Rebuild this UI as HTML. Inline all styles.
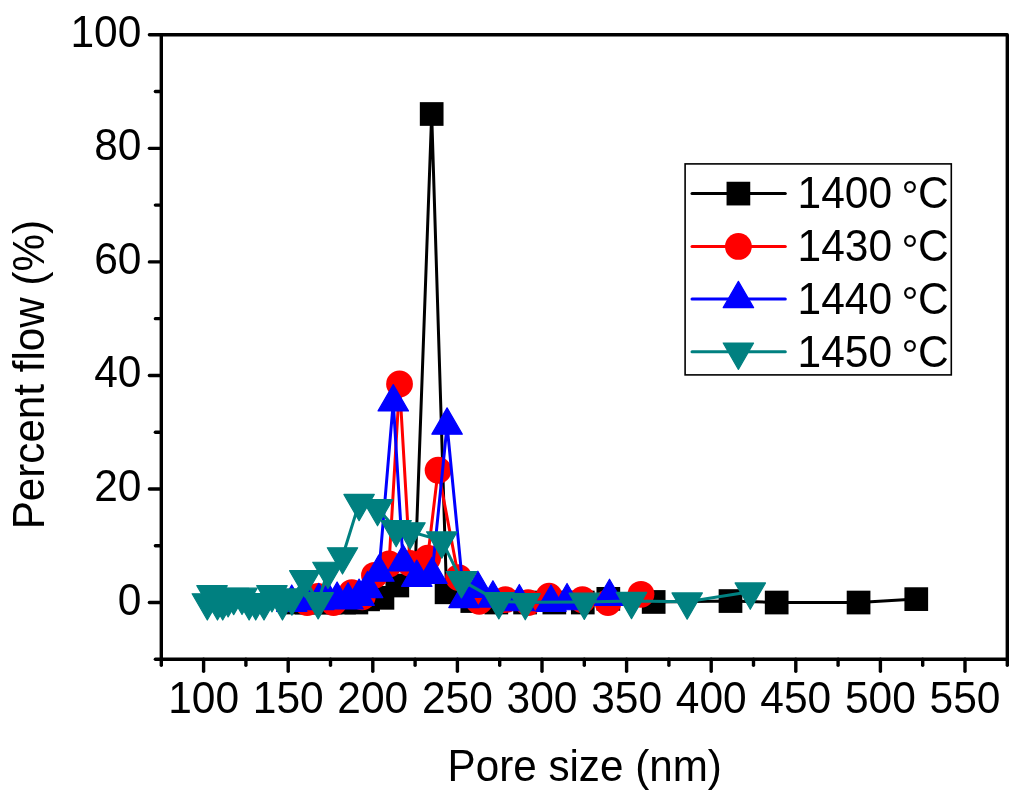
<!DOCTYPE html>
<html><head><meta charset="utf-8"><title>Pore size distribution</title>
<style>html,body{margin:0;padding:0;background:#fff;}body{width:1024px;height:799px;position:relative;overflow:hidden;}</style></head>
<body>
<svg width="1024" height="799" viewBox="0 0 1024 799" style="position:absolute;left:0;top:0">
<rect x="0" y="0" width="1024" height="799" fill="#ffffff"/>
<g id="data">
<polyline fill="none" stroke="#000000" stroke-width="3" stroke-linejoin="round" stroke-linecap="round" points="296.66,602.53 306.81,602.53 318.66,602.53 330.50,602.53 344.04,602.53 356.39,602.53 368.06,599.35 382.44,597.82 397.33,585.50 415.10,571.30 431.68,114.00 446.57,592.31 472.29,601.05 496.32,602.53 525.08,602.53 554.35,602.53 582.78,602.53 608.33,598.84 653.67,601.96 730.49,601.05 776.68,602.53 858.57,602.53 916.27,599.12"/>
<rect x="284.81" y="590.68" width="23.7" height="23.7" fill="#000000"/>
<rect x="294.96" y="590.68" width="23.7" height="23.7" fill="#000000"/>
<rect x="306.81" y="590.68" width="23.7" height="23.7" fill="#000000"/>
<rect x="318.65" y="590.68" width="23.7" height="23.7" fill="#000000"/>
<rect x="332.19" y="590.68" width="23.7" height="23.7" fill="#000000"/>
<rect x="344.54" y="590.68" width="23.7" height="23.7" fill="#000000"/>
<rect x="356.21" y="587.50" width="23.7" height="23.7" fill="#000000"/>
<rect x="370.59" y="585.97" width="23.7" height="23.7" fill="#000000"/>
<rect x="385.48" y="573.65" width="23.7" height="23.7" fill="#000000"/>
<rect x="403.25" y="559.45" width="23.7" height="23.7" fill="#000000"/>
<rect x="419.83" y="102.15" width="23.7" height="23.7" fill="#000000"/>
<rect x="434.72" y="580.46" width="23.7" height="23.7" fill="#000000"/>
<rect x="460.44" y="589.20" width="23.7" height="23.7" fill="#000000"/>
<rect x="484.47" y="590.68" width="23.7" height="23.7" fill="#000000"/>
<rect x="513.23" y="590.68" width="23.7" height="23.7" fill="#000000"/>
<rect x="542.50" y="590.68" width="23.7" height="23.7" fill="#000000"/>
<rect x="570.93" y="590.68" width="23.7" height="23.7" fill="#000000"/>
<rect x="596.48" y="586.99" width="23.7" height="23.7" fill="#000000"/>
<rect x="641.82" y="590.11" width="23.7" height="23.7" fill="#000000"/>
<rect x="718.64" y="589.20" width="23.7" height="23.7" fill="#000000"/>
<rect x="764.83" y="590.68" width="23.7" height="23.7" fill="#000000"/>
<rect x="846.72" y="590.68" width="23.7" height="23.7" fill="#000000"/>
<rect x="904.42" y="587.27" width="23.7" height="23.7" fill="#000000"/>
<polyline fill="none" stroke="#ff0000" stroke-width="3" stroke-linejoin="round" stroke-linecap="round" points="307.15,602.53 317.98,596.28 333.55,602.53 351.82,592.59 362.31,596.85 374.49,575.28 389.04,563.92 399.53,383.95 410.02,563.35 427.62,558.24 438.11,470.25 458.58,577.55 479.23,601.39 505.45,599.69 528.13,602.53 549.11,596.11 582.44,599.69 607.99,602.53 640.98,594.30"/>
<circle cx="307.15" cy="602.53" r="13.4" fill="#ff0000"/>
<circle cx="317.98" cy="596.28" r="13.4" fill="#ff0000"/>
<circle cx="333.55" cy="602.53" r="13.4" fill="#ff0000"/>
<circle cx="351.82" cy="592.59" r="13.4" fill="#ff0000"/>
<circle cx="362.31" cy="596.85" r="13.4" fill="#ff0000"/>
<circle cx="374.49" cy="575.28" r="13.4" fill="#ff0000"/>
<circle cx="389.04" cy="563.92" r="13.4" fill="#ff0000"/>
<circle cx="399.53" cy="383.95" r="13.4" fill="#ff0000"/>
<circle cx="410.02" cy="563.35" r="13.4" fill="#ff0000"/>
<circle cx="427.62" cy="558.24" r="13.4" fill="#ff0000"/>
<circle cx="438.11" cy="470.25" r="13.4" fill="#ff0000"/>
<circle cx="458.58" cy="577.55" r="13.4" fill="#ff0000"/>
<circle cx="479.23" cy="601.39" r="13.4" fill="#ff0000"/>
<circle cx="505.45" cy="599.69" r="13.4" fill="#ff0000"/>
<circle cx="528.13" cy="602.53" r="13.4" fill="#ff0000"/>
<circle cx="549.11" cy="596.11" r="13.4" fill="#ff0000"/>
<circle cx="582.44" cy="599.69" r="13.4" fill="#ff0000"/>
<circle cx="607.99" cy="602.53" r="13.4" fill="#ff0000"/>
<circle cx="640.98" cy="594.30" r="13.4" fill="#ff0000"/>
<polyline fill="none" stroke="#0000ff" stroke-width="3" stroke-linejoin="round" stroke-linecap="round" points="291.75,602.53 305.12,599.69 318.83,600.82 327.96,599.69 337.10,599.52 348.10,600.26 359.09,596.57 367.55,588.90 378.89,572.44 393.27,402.12 403.09,562.22 416.79,577.55 432.02,574.71 447.08,425.40 464.00,598.84 477.87,588.73 492.93,598.27 519.33,601.96 550.97,602.53 567.04,600.99 609.51,596.74"/>
<polygon points="291.75,584.99 276.55,611.29 306.95,611.29" fill="#0000ff" stroke="#0000ff" stroke-width="1.2" stroke-linejoin="round"/>
<polygon points="305.12,582.16 289.92,608.46 320.32,608.46" fill="#0000ff" stroke="#0000ff" stroke-width="1.2" stroke-linejoin="round"/>
<polygon points="318.83,583.29 303.63,609.59 334.03,609.59" fill="#0000ff" stroke="#0000ff" stroke-width="1.2" stroke-linejoin="round"/>
<polygon points="327.96,582.16 312.76,608.46 343.16,608.46" fill="#0000ff" stroke="#0000ff" stroke-width="1.2" stroke-linejoin="round"/>
<polygon points="337.10,581.98 321.90,608.28 352.30,608.28" fill="#0000ff" stroke="#0000ff" stroke-width="1.2" stroke-linejoin="round"/>
<polygon points="348.10,582.72 332.90,609.02 363.30,609.02" fill="#0000ff" stroke="#0000ff" stroke-width="1.2" stroke-linejoin="round"/>
<polygon points="359.09,579.03 343.89,605.33 374.29,605.33" fill="#0000ff" stroke="#0000ff" stroke-width="1.2" stroke-linejoin="round"/>
<polygon points="367.55,571.37 352.35,597.67 382.75,597.67" fill="#0000ff" stroke="#0000ff" stroke-width="1.2" stroke-linejoin="round"/>
<polygon points="378.89,554.90 363.69,581.20 394.09,581.20" fill="#0000ff" stroke="#0000ff" stroke-width="1.2" stroke-linejoin="round"/>
<polygon points="393.27,384.59 378.07,410.89 408.47,410.89" fill="#0000ff" stroke="#0000ff" stroke-width="1.2" stroke-linejoin="round"/>
<polygon points="403.09,544.69 387.89,570.99 418.29,570.99" fill="#0000ff" stroke="#0000ff" stroke-width="1.2" stroke-linejoin="round"/>
<polygon points="416.79,560.01 401.59,586.31 431.99,586.31" fill="#0000ff" stroke="#0000ff" stroke-width="1.2" stroke-linejoin="round"/>
<polygon points="432.02,557.18 416.82,583.48 447.22,583.48" fill="#0000ff" stroke="#0000ff" stroke-width="1.2" stroke-linejoin="round"/>
<polygon points="447.08,407.86 431.88,434.16 462.28,434.16" fill="#0000ff" stroke="#0000ff" stroke-width="1.2" stroke-linejoin="round"/>
<polygon points="464.00,581.30 448.80,607.60 479.20,607.60" fill="#0000ff" stroke="#0000ff" stroke-width="1.2" stroke-linejoin="round"/>
<polygon points="477.87,571.20 462.67,597.50 493.07,597.50" fill="#0000ff" stroke="#0000ff" stroke-width="1.2" stroke-linejoin="round"/>
<polygon points="492.93,580.74 477.73,607.04 508.13,607.04" fill="#0000ff" stroke="#0000ff" stroke-width="1.2" stroke-linejoin="round"/>
<polygon points="519.33,584.43 504.13,610.73 534.53,610.73" fill="#0000ff" stroke="#0000ff" stroke-width="1.2" stroke-linejoin="round"/>
<polygon points="550.97,584.99 535.77,611.29 566.17,611.29" fill="#0000ff" stroke="#0000ff" stroke-width="1.2" stroke-linejoin="round"/>
<polygon points="567.04,583.46 551.84,609.76 582.24,609.76" fill="#0000ff" stroke="#0000ff" stroke-width="1.2" stroke-linejoin="round"/>
<polygon points="609.51,579.20 594.31,605.50 624.71,605.50" fill="#0000ff" stroke="#0000ff" stroke-width="1.2" stroke-linejoin="round"/>
<polyline fill="none" stroke="#008080" stroke-width="3" stroke-linejoin="round" stroke-linecap="round" points="207.32,602.53 212.06,594.41 217.47,602.53 222.72,602.53 228.13,599.40 233.72,597.13 242.01,596.96 249.11,602.53 255.71,602.53 264.00,602.53 271.96,594.41 282.45,602.53 291.92,597.70 304.78,579.42 318.15,601.39 327.96,571.02 342.51,556.54 359.09,503.17 377.54,508.28 396.15,529.29 410.02,531.56 441.83,540.64 461.46,580.39 498.85,601.39 525.25,602.24 584.30,601.96 631.51,601.11 687.17,601.68 750.29,591.74"/>
<polygon points="207.32,620.06 192.12,593.76 222.52,593.76" fill="#008080" stroke="#008080" stroke-width="1.2" stroke-linejoin="round"/>
<polygon points="212.06,611.94 196.86,585.64 227.26,585.64" fill="#008080" stroke="#008080" stroke-width="1.2" stroke-linejoin="round"/>
<polygon points="217.47,620.06 202.27,593.76 232.67,593.76" fill="#008080" stroke="#008080" stroke-width="1.2" stroke-linejoin="round"/>
<polygon points="222.72,620.06 207.52,593.76 237.92,593.76" fill="#008080" stroke="#008080" stroke-width="1.2" stroke-linejoin="round"/>
<polygon points="228.13,616.94 212.93,590.64 243.33,590.64" fill="#008080" stroke="#008080" stroke-width="1.2" stroke-linejoin="round"/>
<polygon points="233.72,614.67 218.52,588.37 248.92,588.37" fill="#008080" stroke="#008080" stroke-width="1.2" stroke-linejoin="round"/>
<polygon points="242.01,614.50 226.81,588.20 257.21,588.20" fill="#008080" stroke="#008080" stroke-width="1.2" stroke-linejoin="round"/>
<polygon points="249.11,620.06 233.91,593.76 264.31,593.76" fill="#008080" stroke="#008080" stroke-width="1.2" stroke-linejoin="round"/>
<polygon points="255.71,620.06 240.51,593.76 270.91,593.76" fill="#008080" stroke="#008080" stroke-width="1.2" stroke-linejoin="round"/>
<polygon points="264.00,620.06 248.80,593.76 279.20,593.76" fill="#008080" stroke="#008080" stroke-width="1.2" stroke-linejoin="round"/>
<polygon points="271.96,611.94 256.76,585.64 287.16,585.64" fill="#008080" stroke="#008080" stroke-width="1.2" stroke-linejoin="round"/>
<polygon points="282.45,620.06 267.25,593.76 297.65,593.76" fill="#008080" stroke="#008080" stroke-width="1.2" stroke-linejoin="round"/>
<polygon points="291.92,615.23 276.72,588.93 307.12,588.93" fill="#008080" stroke="#008080" stroke-width="1.2" stroke-linejoin="round"/>
<polygon points="304.78,596.95 289.58,570.65 319.98,570.65" fill="#008080" stroke="#008080" stroke-width="1.2" stroke-linejoin="round"/>
<polygon points="318.15,618.93 302.95,592.63 333.35,592.63" fill="#008080" stroke="#008080" stroke-width="1.2" stroke-linejoin="round"/>
<polygon points="327.96,588.55 312.76,562.25 343.16,562.25" fill="#008080" stroke="#008080" stroke-width="1.2" stroke-linejoin="round"/>
<polygon points="342.51,574.07 327.31,547.77 357.71,547.77" fill="#008080" stroke="#008080" stroke-width="1.2" stroke-linejoin="round"/>
<polygon points="359.09,520.71 343.89,494.41 374.29,494.41" fill="#008080" stroke="#008080" stroke-width="1.2" stroke-linejoin="round"/>
<polygon points="377.54,525.82 362.34,499.52 392.74,499.52" fill="#008080" stroke="#008080" stroke-width="1.2" stroke-linejoin="round"/>
<polygon points="396.15,546.82 380.95,520.52 411.35,520.52" fill="#008080" stroke="#008080" stroke-width="1.2" stroke-linejoin="round"/>
<polygon points="410.02,549.09 394.82,522.79 425.22,522.79" fill="#008080" stroke="#008080" stroke-width="1.2" stroke-linejoin="round"/>
<polygon points="441.83,558.18 426.63,531.88 457.03,531.88" fill="#008080" stroke="#008080" stroke-width="1.2" stroke-linejoin="round"/>
<polygon points="461.46,597.92 446.26,571.62 476.66,571.62" fill="#008080" stroke="#008080" stroke-width="1.2" stroke-linejoin="round"/>
<polygon points="498.85,618.93 483.65,592.63 514.05,592.63" fill="#008080" stroke="#008080" stroke-width="1.2" stroke-linejoin="round"/>
<polygon points="525.25,619.78 510.05,593.48 540.45,593.48" fill="#008080" stroke="#008080" stroke-width="1.2" stroke-linejoin="round"/>
<polygon points="584.30,619.49 569.10,593.19 599.50,593.19" fill="#008080" stroke="#008080" stroke-width="1.2" stroke-linejoin="round"/>
<polygon points="631.51,618.64 616.31,592.34 646.71,592.34" fill="#008080" stroke="#008080" stroke-width="1.2" stroke-linejoin="round"/>
<polygon points="687.17,619.21 671.97,592.91 702.37,592.91" fill="#008080" stroke="#008080" stroke-width="1.2" stroke-linejoin="round"/>
<polygon points="750.29,609.27 735.09,582.97 765.49,582.97" fill="#008080" stroke="#008080" stroke-width="1.2" stroke-linejoin="round"/>
</g>
<g stroke="#000" stroke-width="3.4" fill="none" stroke-linecap="round">
<rect x="161.3" y="34.8" width="846.0" height="624.5" stroke-linejoin="round"/>
<line x1="161.3" y1="659.30" x2="155.40" y2="659.30"/>
<line x1="161.3" y1="602.53" x2="149.40" y2="602.53"/>
<line x1="161.3" y1="545.75" x2="155.40" y2="545.75"/>
<line x1="161.3" y1="488.98" x2="149.40" y2="488.98"/>
<line x1="161.3" y1="432.21" x2="155.40" y2="432.21"/>
<line x1="161.3" y1="375.44" x2="149.40" y2="375.44"/>
<line x1="161.3" y1="318.66" x2="155.40" y2="318.66"/>
<line x1="161.3" y1="261.89" x2="149.40" y2="261.89"/>
<line x1="161.3" y1="205.12" x2="155.40" y2="205.12"/>
<line x1="161.3" y1="148.35" x2="149.40" y2="148.35"/>
<line x1="161.3" y1="91.57" x2="155.40" y2="91.57"/>
<line x1="161.3" y1="34.80" x2="149.40" y2="34.80"/>
<line x1="161.30" y1="659.3" x2="161.30" y2="665.20"/>
<line x1="203.60" y1="659.3" x2="203.60" y2="671.20"/>
<line x1="245.90" y1="659.3" x2="245.90" y2="665.20"/>
<line x1="288.20" y1="659.3" x2="288.20" y2="671.20"/>
<line x1="330.50" y1="659.3" x2="330.50" y2="665.20"/>
<line x1="372.80" y1="659.3" x2="372.80" y2="671.20"/>
<line x1="415.10" y1="659.3" x2="415.10" y2="665.20"/>
<line x1="457.40" y1="659.3" x2="457.40" y2="671.20"/>
<line x1="499.70" y1="659.3" x2="499.70" y2="665.20"/>
<line x1="542.00" y1="659.3" x2="542.00" y2="671.20"/>
<line x1="584.30" y1="659.3" x2="584.30" y2="665.20"/>
<line x1="626.60" y1="659.3" x2="626.60" y2="671.20"/>
<line x1="668.90" y1="659.3" x2="668.90" y2="665.20"/>
<line x1="711.20" y1="659.3" x2="711.20" y2="671.20"/>
<line x1="753.50" y1="659.3" x2="753.50" y2="665.20"/>
<line x1="795.80" y1="659.3" x2="795.80" y2="671.20"/>
<line x1="838.10" y1="659.3" x2="838.10" y2="665.20"/>
<line x1="880.40" y1="659.3" x2="880.40" y2="671.20"/>
<line x1="922.70" y1="659.3" x2="922.70" y2="665.20"/>
<line x1="965.00" y1="659.3" x2="965.00" y2="671.20"/>
<line x1="1007.30" y1="659.3" x2="1007.30" y2="665.20"/>
</g>
<g font-family="Liberation Sans, Arial, sans-serif" fill="#000">
<text transform="translate(141.40,614.53) scale(1,1.035)" font-size="42.5" text-anchor="end">0</text>
<text transform="translate(141.40,500.98) scale(1,1.035)" font-size="42.5" text-anchor="end">20</text>
<text transform="translate(141.40,387.44) scale(1,1.035)" font-size="42.5" text-anchor="end">40</text>
<text transform="translate(141.40,273.89) scale(1,1.035)" font-size="42.5" text-anchor="end">60</text>
<text transform="translate(141.40,160.35) scale(1,1.035)" font-size="42.5" text-anchor="end">80</text>
<text transform="translate(141.40,46.80) scale(1,1.035)" font-size="42.5" text-anchor="end">100</text>
<text transform="translate(203.60,712.80) scale(1,1.035)" font-size="42.5" text-anchor="middle">100</text>
<text transform="translate(288.20,712.80) scale(1,1.035)" font-size="42.5" text-anchor="middle">150</text>
<text transform="translate(372.80,712.80) scale(1,1.035)" font-size="42.5" text-anchor="middle">200</text>
<text transform="translate(457.40,712.80) scale(1,1.035)" font-size="42.5" text-anchor="middle">250</text>
<text transform="translate(542.00,712.80) scale(1,1.035)" font-size="42.5" text-anchor="middle">300</text>
<text transform="translate(626.60,712.80) scale(1,1.035)" font-size="42.5" text-anchor="middle">350</text>
<text transform="translate(711.20,712.80) scale(1,1.035)" font-size="42.5" text-anchor="middle">400</text>
<text transform="translate(795.80,712.80) scale(1,1.035)" font-size="42.5" text-anchor="middle">450</text>
<text transform="translate(880.40,712.80) scale(1,1.035)" font-size="42.5" text-anchor="middle">500</text>
<text transform="translate(965.00,712.80) scale(1,1.035)" font-size="42.5" text-anchor="middle">550</text>
<text transform="translate(584.70,780.80) scale(1,1.035)" font-size="42.2" text-anchor="middle">Pore size (nm)</text>
<text transform="translate(43.60,374.60) rotate(-90) scale(1,1.035)" font-size="42.2" text-anchor="middle">Percent flow (%)</text>
</g>
<rect x="685.1" y="163.9" width="266.2" height="211" fill="#fff" stroke="#000" stroke-width="1.6"/>
<g font-family="Liberation Sans, Arial, sans-serif" fill="#000">
<line x1="692" y1="193.6" x2="785.3" y2="193.6" stroke="#000000" stroke-width="3" stroke-linecap="round"/>
<rect x="726.55" y="181.75" width="23.7" height="23.7" fill="#000000"/>
<text transform="translate(797.50,208.20) scale(1,1.035)" font-size="42.5" text-anchor="start">1400</text>
<text x="909.9" y="211.40" font-size="42.5" text-anchor="middle">°</text>
<text transform="translate(917.90,208.20) scale(1,1.035)" font-size="42.5" text-anchor="start">C</text>
<line x1="692" y1="246.4" x2="785.3" y2="246.4" stroke="#ff0000" stroke-width="3" stroke-linecap="round"/>
<circle cx="738.40" cy="246.40" r="13.4" fill="#ff0000"/>
<text transform="translate(797.50,261.40) scale(1,1.035)" font-size="42.5" text-anchor="start">1430</text>
<text x="909.9" y="264.60" font-size="42.5" text-anchor="middle">°</text>
<text transform="translate(917.90,261.40) scale(1,1.035)" font-size="42.5" text-anchor="start">C</text>
<line x1="692" y1="298.9" x2="785.3" y2="298.9" stroke="#0000ff" stroke-width="3" stroke-linecap="round"/>
<polygon points="738.40,281.37 723.20,307.67 753.60,307.67" fill="#0000ff" stroke="#0000ff" stroke-width="1.2" stroke-linejoin="round"/>
<text transform="translate(797.50,314.00) scale(1,1.035)" font-size="42.5" text-anchor="start">1440</text>
<text x="909.9" y="317.20" font-size="42.5" text-anchor="middle">°</text>
<text transform="translate(917.90,314.00) scale(1,1.035)" font-size="42.5" text-anchor="start">C</text>
<line x1="692" y1="351.8" x2="785.3" y2="351.8" stroke="#008080" stroke-width="3" stroke-linecap="round"/>
<polygon points="738.40,369.33 723.20,343.03 753.60,343.03" fill="#008080" stroke="#008080" stroke-width="1.2" stroke-linejoin="round"/>
<text transform="translate(797.50,367.00) scale(1,1.035)" font-size="42.5" text-anchor="start">1450</text>
<text x="909.9" y="370.20" font-size="42.5" text-anchor="middle">°</text>
<text transform="translate(917.90,367.00) scale(1,1.035)" font-size="42.5" text-anchor="start">C</text>
</g>
</svg>
</body></html>
